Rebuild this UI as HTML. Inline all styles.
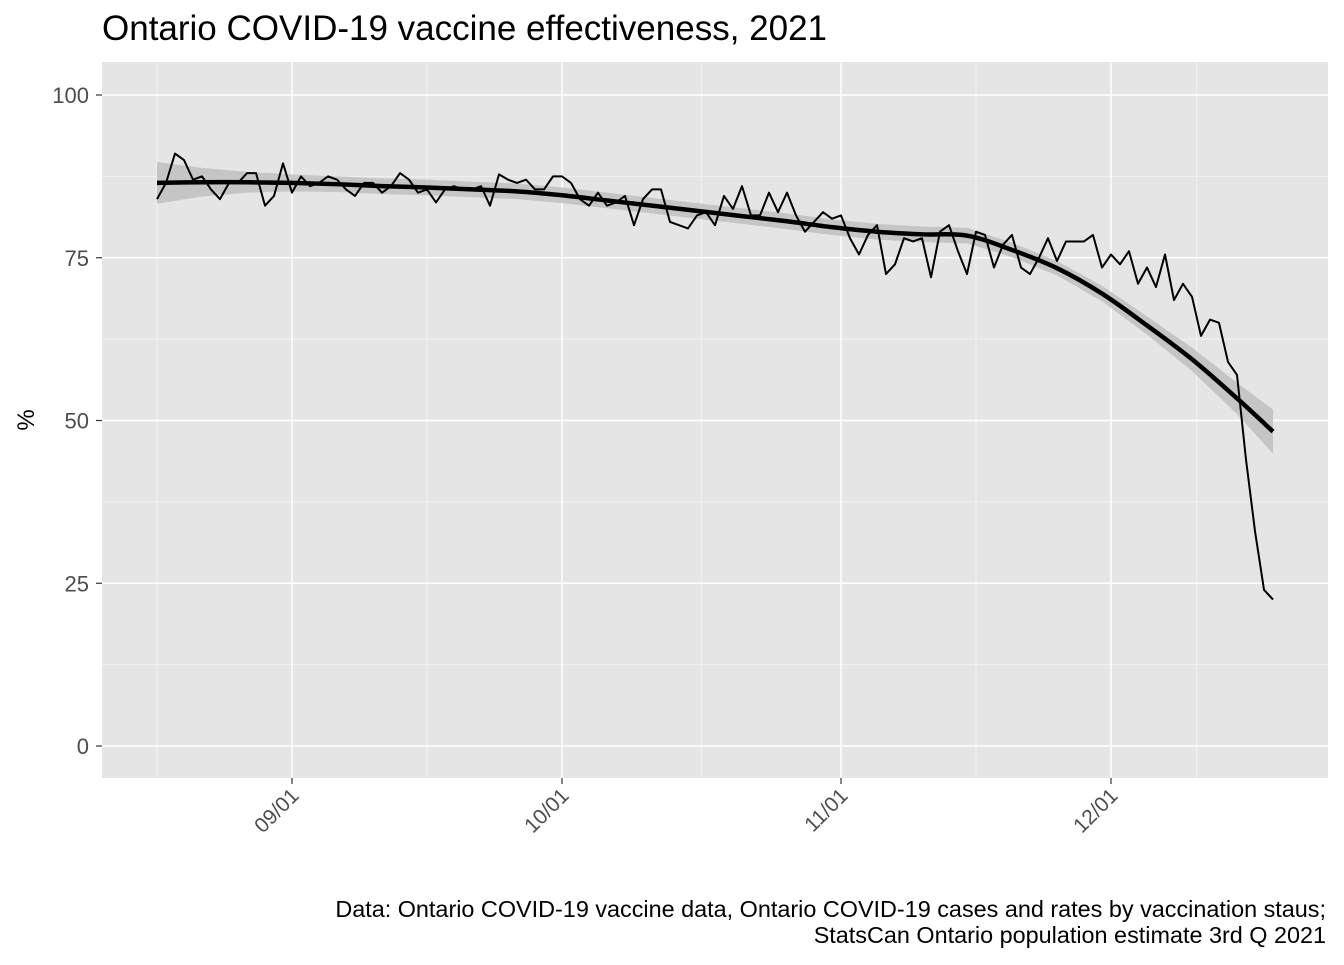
<!DOCTYPE html>
<html><head><meta charset="utf-8"><style>
body{margin:0;background:#fff;}
svg text{font-family:"Liberation Sans",Arial,sans-serif;}
</style></head><body>
<svg id="chart" width="1344" height="960" xmlns="http://www.w3.org/2000/svg">
<rect width="1344" height="960" fill="#fff"/>
<text x="102" y="40" font-size="35" fill="#000">Ontario COVID-19 vaccine effectiveness, 2021</text>
<rect x="102" y="62" width="1226" height="716" fill="#e5e5e5"/>
<g id="grid"></g>
<g id="band"></g>
<g id="series"></g>
<g id="axes"></g>
<text transform="translate(34,420) rotate(-90)" text-anchor="middle" font-size="24" fill="#000">%</text>
<text x="1326" y="917" text-anchor="end" font-size="23.4" fill="#000">Data: Ontario COVID-19 vaccine data, Ontario COVID-19 cases and rates by vaccination staus;</text>
<text x="1326" y="943" text-anchor="end" font-size="23.4" fill="#000">StatsCan Ontario population estimate 3rd Q 2021</text>
</svg>
<script>
// day index 0 = 08/17
const dailyValues = [84,86.5,91,90,87,87.5,85.5,84,86.5,86.5,
88,88,83,84.5,89.5,85,87.5,86,86.5,87.5,
87,85.5,84.5,86.5,86.5,85,86,88,87,85,
85.5,83.5,85.5,86,85.5,85.5,86,83,87.8,87,
86.5,87,85.5,85.5,87.5,87.5,86.5,84,83,85,
83,83.5,84.5,80,84,85.5,85.5,80.5,80,79.5,
81.5,82,80,84.5,82.5,86,81.5,81.5,85,82,
85,81.5,79,80.5,82,81,81.5,78,75.5,78.5,
80,72.5,74,78,77.5,78,72,79,80,76,
72.5,79,78.5,73.5,77,78.5,73.5,72.5,75,78,
74.5,77.5,77.5,77.5,78.5,73.5,75.5,74,76,71,
73.5,70.5,75.5,68.5,71,69,63,65.5,65,59,
57,44,33,24,22.5];
const smoothDays = [0,5,10,15,20,25,30,35,40,45,50,55,60,65,70,75,80,85,90,95,100,105,110,115,120,124];
const smoothValues = [86.5,86.6,86.6,86.5,86.3,86,85.8,85.5,85.2,84.6,83.8,83,82.2,81.4,80.6,79.7,79,78.6,78.4,76.2,73.4,69.5,64.6,59.4,53.4,48.3];
const smoothSE = [3.2,2.2,1.6,1.3,1.2,1.2,1.2,1.2,1.2,1.2,1.2,1.2,1.2,1.2,1.2,1.2,1.2,1.2,1.2,1.1,1.1,1.2,1.4,1.8,2.4,3.4];
const yTicks = [0,25,50,75,100];
const xTickDays = [15,45,76,106];
const xTickLabels = ["09/01","10/01","11/01","12/01"];

const NS="http://www.w3.org/2000/svg";
const X0=157, PXD=9, Y0=746, PXU=6.51;
const xs=d=>X0+d*PXD, ys=v=>Y0-v*PXU;
function mk(tag,attrs,parent){const e=document.createElementNS(NS,tag);for(const k in attrs)e.setAttribute(k,attrs[k]);parent.appendChild(e);return e;}
const grid=document.getElementById('grid'),band=document.getElementById('band'),series=document.getElementById('series'),axes=document.getElementById('axes');
for(let i=0;i<yTicks.length-1;i++){const v=(yTicks[i]+yTicks[i+1])/2;
 const l=mk('line',{x1:102,x2:1328,y1:ys(v),y2:ys(v),stroke:'#f2f2f2','stroke-width':1},grid);
 
 }
const xMinor=[0].concat(xTickDays.slice(0,-1).map((d,i)=>(d+xTickDays[i+1])/2)).concat([(xTickDays[3]+124)/2+0.5]);
xMinor.forEach(d=>{const l=mk('line',{x1:xs(d),x2:xs(d),y1:62,y2:778,stroke:'#f2f2f2','stroke-width':1},grid);
 
 });
yTicks.forEach(v=>{const l=mk('line',{x1:102,x2:1328,y1:ys(v),y2:ys(v),stroke:'#fff','stroke-width':1.4},grid);
 
 
 const t=mk('line',{x1:96,x2:102,y1:ys(v),y2:ys(v),stroke:'#333','stroke-width':1.2},axes);
 
 
 const tx=mk('text',{x:89,y:ys(v)+8,'text-anchor':'end','font-size':22,fill:'#4d4d4d'},axes);tx.textContent=v;
 
 });
xTickDays.forEach((d,i)=>{const l=mk('line',{x1:xs(d),x2:xs(d),y1:62,y2:778,stroke:'#fff','stroke-width':1.4},grid);
 
 
 const t=mk('line',{x1:xs(d),x2:xs(d),y1:778,y2:784,stroke:'#333','stroke-width':1.2},axes);
 
 
 const tx=mk('text',{transform:`translate(${xs(d)+8},${797}) rotate(-45)`,'text-anchor':'end','font-size':21,fill:'#4d4d4d'},axes);tx.textContent=xTickLabels[i];
 
 });
let up=smoothDays.map((d,i)=>xs(d)+','+ys(smoothValues[i]+smoothSE[i]));
let dn=smoothDays.map((d,i)=>xs(d)+','+ys(smoothValues[i]-smoothSE[i])).reverse();
const b=mk('polygon',{points:up.concat(dn).join(' '),fill:'#bfbfbf','fill-opacity':0.85},band);


const dl=mk('polyline',{points:dailyValues.map((v,i)=>xs(i)+','+ys(v)).join(' '),fill:'none',stroke:'#000','stroke-width':2,'stroke-linejoin':'round'},series);


const pts=smoothDays.map((d,i)=>[xs(d),ys(smoothValues[i])]);
let p='M'+pts[0][0]+','+pts[0][1];
for(let i=0;i<pts.length-1;i++){const a=pts[Math.max(0,i-1)],b1=pts[i],c=pts[i+1],e=pts[Math.min(pts.length-1,i+2)];
 p+=` C${b1[0]+(c[0]-a[0])/6},${b1[1]+(c[1]-a[1])/6} ${c[0]-(e[0]-b1[0])/6},${c[1]-(e[1]-b1[1])/6} ${c[0]},${c[1]}`;}
const sl=mk('path',{d:p,fill:'none',stroke:'#000','stroke-width':4.5},series);


</script>
</body></html>
